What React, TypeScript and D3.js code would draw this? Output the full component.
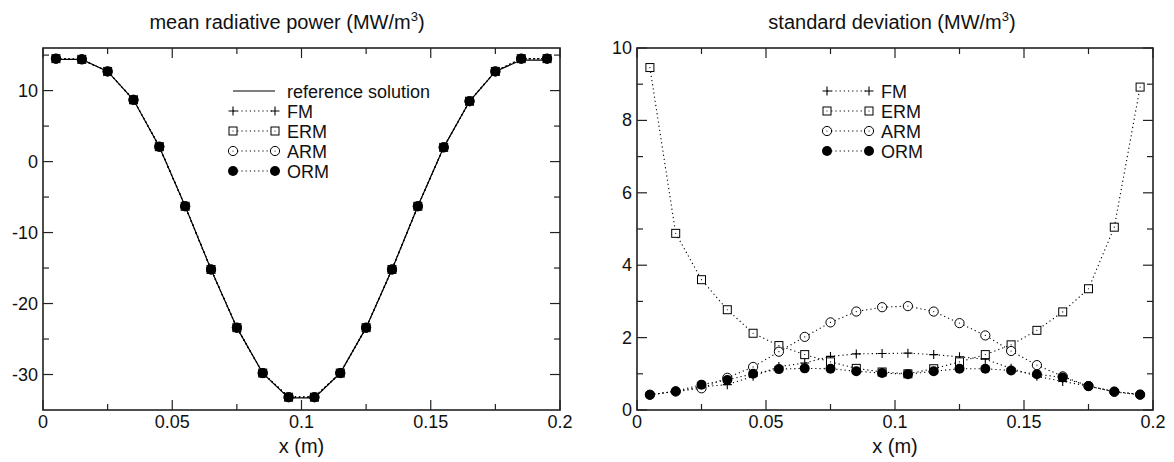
import React from "react";
import * as d3 from "d3";

const xs = [0.005, 0.015, 0.025, 0.035, 0.045, 0.055, 0.065, 0.075, 0.085, 0.095, 0.105, 0.115, 0.125, 0.135, 0.145, 0.155, 0.165, 0.175, 0.185, 0.195];

// mean radiative power
const meanRef = [14.4, 14.4, 12.7, 8.7, 2.1, -6.3, -15.2, -23.4, -29.8, -33.3, -33.3, -29.8, -23.4, -15.2, -6.3, 2.0, 8.5, 12.7, 14.3, 14.3];
const meanFM = [14.5, 14.4, 12.7, 8.7, 2.1, -6.3, -15.2, -23.4, -29.8, -33.1, -33.1, -29.8, -23.4, -15.2, -6.3, 2.0, 8.5, 12.7, 14.5, 14.5];
const meanERM = [14.5, 14.4, 12.7, 8.7, 2.1, -6.3, -15.2, -23.4, -29.8, -33.2, -33.2, -29.8, -23.4, -15.2, -6.3, 2.0, 8.5, 12.7, 14.5, 14.5];
const meanARM = [14.5, 14.4, 12.7, 8.7, 2.1, -6.3, -15.2, -23.4, -29.8, -33.2, -33.2, -29.8, -23.4, -15.2, -6.3, 2.0, 8.5, 12.7, 14.5, 14.5];
const meanORM = [14.5, 14.4, 12.7, 8.7, 2.1, -6.3, -15.2, -23.4, -29.8, -33.2, -33.2, -29.8, -23.4, -15.2, -6.3, 2.0, 8.5, 12.7, 14.5, 14.5];

// standard deviation
const sdFM = [0.42, 0.52, 0.64, 0.70, 0.93, 1.20, 1.30, 1.48, 1.55, 1.56, 1.57, 1.53, 1.47, 1.40, 1.15, 0.93, 0.79, 0.66, 0.51, 0.43];
const sdERM = [9.46, 4.88, 3.60, 2.77, 2.12, 1.78, 1.53, 1.33, 1.15, 1.05, 1.00, 1.14, 1.33, 1.53, 1.80, 2.20, 2.71, 3.35, 5.05, 8.92];
const sdARM = [0.42, 0.51, 0.60, 0.89, 1.19, 1.61, 2.02, 2.42, 2.72, 2.84, 2.87, 2.72, 2.40, 2.06, 1.63, 1.24, 0.93, 0.66, 0.50, 0.42];
const sdORM = [0.42, 0.52, 0.70, 0.83, 1.00, 1.13, 1.15, 1.14, 1.07, 1.02, 0.99, 1.07, 1.14, 1.14, 1.09, 0.99, 0.90, 0.66, 0.51, 0.43];

const xMajor = [0, 0.05, 0.1, 0.15, 0.2];
const xMajorLabels = ["0", "0.05", "0.1", "0.15", "0.2"];
const xMinor = [0.025, 0.075, 0.125, 0.175];
const meanYMajor = [10, 0, -10, -20, -30];
const meanYMinor = [15, 5, -5, -15, -25];
const sdYMajor = [0, 2, 4, 6, 8, 10];
const sdYMinor = [1, 3, 5, 7, 9];

const FONT = "'Liberation Sans', Arial, Helvetica, sans-serif";

type Marker = "plus" | "square" | "circle" | "disc";

function MarkerShape({ kind, x, y }: { kind: Marker; x: number; y: number }) {
  if (kind === "plus")
    return <path d={`M${x - 4.5},${y}H${x + 4.5}M${x},${y - 4.5}V${y + 4.5}`} stroke="#000" strokeWidth={1.1} fill="none" />;
  if (kind === "square")
    return (
      <g>
        <rect x={x - 4} y={y - 4} width={8} height={8} fill="#fff" stroke="#000" strokeWidth={1} />
        <circle cx={x} cy={y} r={0.6} fill="#000" />
      </g>
    );
  if (kind === "circle")
    return (
      <g>
        <circle cx={x} cy={y} r={4.6} fill="#fff" stroke="#000" strokeWidth={1} />
        <circle cx={x} cy={y} r={0.6} fill="#000" />
      </g>
    );
  return <circle cx={x} cy={y} r={5} fill="#000" />;
}

type Series = { name: string; values: number[]; marker: Marker | null; dotted: boolean };

function Panel(props: {
  x0: number; x1: number; y0: number; y1: number;
  yDomain: [number, number]; yMajor: number[]; yMinor: number[];
  series: Series[]; title: string; titleX: number;
  legendSeries: Series[]; legendY: number;
}) {
  const { x0, x1, y0, y1 } = props;
  const xS = d3.scaleLinear().domain([0, 0.2]).range([x0, x1]);
  const yS = d3.scaleLinear().domain(props.yDomain).range([y1, y0]);
  const line = d3.line<number>().x((_, i) => xS(xs[i])).y((v) => yS(v));
  const MAJ = 10, MIN = 6;
  const stroke = "#222";
  const lx0 = x0 + 190, lx1 = x0 + 232, tx = x0 + 244;
  return (
    <g>
      <text x={props.titleX} y={29} textAnchor="middle" fontSize={20} fontFamily={FONT} fill="#111">
        {props.title}
        <tspan fontSize={13} dy={-8}>3</tspan>
        <tspan dy={8}>)</tspan>
      </text>
      {/* ticks */}
      {xMajor.map((t, i) => (
        <g key={"xM" + i}>
          <line x1={xS(t)} x2={xS(t)} y1={y1} y2={y1 - MAJ} stroke={stroke} strokeWidth={1.2} />
          <line x1={xS(t)} x2={xS(t)} y1={y0} y2={y0 + MAJ} stroke={stroke} strokeWidth={1.2} />
          <text x={xS(t)} y={y1 + 18} textAnchor="middle" fontSize={18} fontFamily={FONT} fill="#111">{xMajorLabels[i]}</text>
        </g>
      ))}
      {xMinor.map((t, i) => (
        <g key={"xm" + i}>
          <line x1={xS(t)} x2={xS(t)} y1={y1} y2={y1 - MIN} stroke={stroke} strokeWidth={1.2} />
          <line x1={xS(t)} x2={xS(t)} y1={y0} y2={y0 + MIN} stroke={stroke} strokeWidth={1.2} />
        </g>
      ))}
      {props.yMajor.map((t, i) => (
        <g key={"yM" + i}>
          <line x1={x0} x2={x0 + MAJ} y1={yS(t)} y2={yS(t)} stroke={stroke} strokeWidth={1.2} />
          <line x1={x1} x2={x1 - MAJ} y1={yS(t)} y2={yS(t)} stroke={stroke} strokeWidth={1.2} />
          <text x={x0 - 5} y={yS(t) + 6} textAnchor="end" fontSize={18} fontFamily={FONT} fill="#111">{String(t)}</text>
        </g>
      ))}
      {props.yMinor.map((t, i) => (
        <g key={"ym" + i}>
          <line x1={x0} x2={x0 + MIN} y1={yS(t)} y2={yS(t)} stroke={stroke} strokeWidth={1.2} />
          <line x1={x1} x2={x1 - MIN} y1={yS(t)} y2={yS(t)} stroke={stroke} strokeWidth={1.2} />
        </g>
      ))}
      <text x={(x0 + x1) / 2} y={453} textAnchor="middle" fontSize={20} fontFamily={FONT} fill="#111">x (m)</text>
      {/* data lines */}
      {props.series.map((s) => (
        <path key={"l" + s.name} d={line(s.values) || ""} fill="none" stroke="#000"
          strokeWidth={s.dotted ? 1.1 : 1.2} strokeDasharray={s.dotted ? "1.2,3" : undefined} />
      ))}
      {props.series.map((s) =>
        s.marker ? s.values.map((v, i) => <MarkerShape key={s.name + i} kind={s.marker as Marker} x={xS(xs[i])} y={yS(v)} />) : null
      )}
      {/* legend */}
      {props.legendSeries.map((s, i) => {
        const ly = props.legendY + i * 20;
        return (
          <g key={"lg" + s.name}>
            <line x1={lx0} x2={lx1} y1={ly} y2={ly} stroke="#000" strokeWidth={1.1}
              strokeDasharray={s.dotted ? "1.2,3" : undefined} />
            {s.marker ? <MarkerShape kind={s.marker} x={lx0} y={ly} /> : null}
            {s.marker ? <MarkerShape kind={s.marker} x={lx1} y={ly} /> : null}
            <text x={tx} y={ly + 6.5} fontSize={18} fontFamily={FONT} fill="#111">{s.name}</text>
          </g>
        );
      })}
      <rect x={x0} y={y0} width={x1 - x0} height={y1 - y0} fill="none" stroke={stroke} strokeWidth={1.6} />
    </g>
  );
}

export default function App() {
  const meanSeries: Series[] = [
    { name: "reference solution", values: meanRef, marker: null, dotted: false },
    { name: "FM", values: meanFM, marker: "plus", dotted: true },
    { name: "ERM", values: meanERM, marker: "square", dotted: true },
    { name: "ARM", values: meanARM, marker: "circle", dotted: true },
    { name: "ORM", values: meanORM, marker: "disc", dotted: true },
  ];
  const sdSeries: Series[] = [
    { name: "FM", values: sdFM, marker: "plus", dotted: true },
    { name: "ERM", values: sdERM, marker: "square", dotted: true },
    { name: "ARM", values: sdARM, marker: "circle", dotted: true },
    { name: "ORM", values: sdORM, marker: "disc", dotted: true },
  ];
  return (
    <svg width={1174} height={462} style={{ display: "block", position: "absolute", left: 0, top: 0, background: "#fff" }}>
      <rect width={1174} height={462} fill="#fff" />
      <Panel x0={43} x1={560} y0={48} y1={410} yDomain={[-35, 16]} yMajor={meanYMajor} yMinor={meanYMinor}
        series={meanSeries} title="mean radiative power (MW/m" titleX={287} legendSeries={meanSeries} legendY={91} />
      <Panel x0={637} x1={1153} y0={48} y1={410} yDomain={[0, 10]} yMajor={sdYMajor} yMinor={sdYMinor}
        series={sdSeries} title="standard deviation (MW/m" titleX={892} legendSeries={sdSeries} legendY={91} />
    </svg>
  );
}
